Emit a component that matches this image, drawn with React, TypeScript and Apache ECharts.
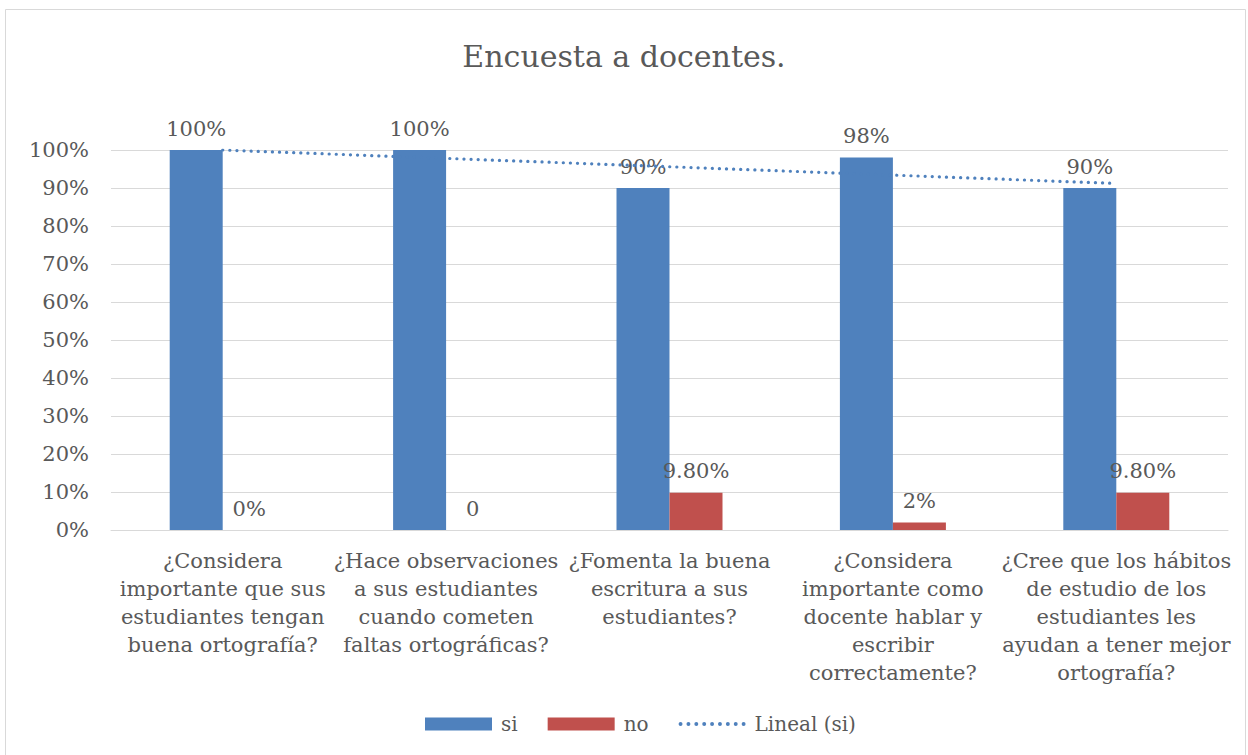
import React, { useEffect, useRef } from "react";
import * as echarts from "echarts";

const categories = [
  "¿Considera\nimportante que sus\nestudiantes tengan\nbuena ortografía?",
  "¿Hace observaciones\na sus estudiantes\ncuando cometen\nfaltas ortográficas?",
  "¿Fomenta la buena\nescritura a sus\nestudiantes?",
  "¿Considera\nimportante como\ndocente hablar y\nescribir\ncorrectamente?",
  "¿Cree que los hábitos\nde estudio de los\nestudiantes les\nayudan a tener mejor\nortografía?",
];
const siValues = [1.0, 1.0, 0.9, 0.98, 0.9];
const noValues = [0, 0, 0.098, 0.02, 0.098];
const siLabels = ["100%", "100%", "90%", "98%", "90%"];
const noLabels = ["0%", "0", "9.80%", "2%", "9.80%"];
const yTicks = [0, 0.1, 0.2, 0.3, 0.4, 0.5, 0.6, 0.7, 0.8, 0.9, 1.0];

// Linear trendline (least squares) of the "si" series, as in the source's "Lineal (si)"
function linearTrend(values: number[]): number[] {
  const n = values.length;
  const xs = values.map((_, i) => i + 1);
  const mx = xs.reduce((a, b) => a + b, 0) / n;
  const my = values.reduce((a, b) => a + b, 0) / n;
  let num = 0;
  let den = 0;
  for (let i = 0; i < n; i++) {
    num += (xs[i] - mx) * (values[i] - my);
    den += (xs[i] - mx) * (xs[i] - mx);
  }
  const slope = num / den;
  const icpt = my - slope * mx;
  return xs.map((x) => icpt + slope * x);
}

// dotted-line legend icon: 9 small round dots
function dottedIcon(): string {
  let d = "";
  for (let i = 0; i < 9; i++) {
    const x = i * 8;
    d += `M${x},2a2,2 0 1,0 4,0a2,2 0 1,0 -4,0Z`;
  }
  return "path://" + d;
}

const FONT = "DejaVu Serif";
const TEXT = "#595959";
const BLUE = "#4F81BD";
const RED = "#C0504D";
const FS = 21;

export default function App() {
  const ref = useRef<HTMLDivElement>(null);
  useEffect(() => {
    if (!ref.current) return;
    const chart = echarts.init(ref.current, null, { renderer: "svg" });
    const trend = linearTrend(siValues);
    chart.setOption({
      animation: false,
      backgroundColor: "#ffffff",
      textStyle: { fontFamily: FONT, color: TEXT },
      title: {
        text: "Encuesta a docentes.",
        left: "center",
        top: 36,
        textStyle: { fontFamily: FONT, fontSize: 30, fontWeight: "normal", color: TEXT },
      },
      graphic: [
        {
          type: "rect",
          shape: { x: 5.5, y: 9.5, width: 1240, height: 760 },
          style: { fill: "none", stroke: "#d9d9d9", lineWidth: 1 },
          silent: true,
        },
      ],
      legend: {
        bottom: 16,
        left: 420,
        itemWidth: 67,
        itemHeight: 13,
        itemGap: 30,
        textStyle: { fontFamily: FONT, fontSize: 20, color: TEXT, padding: [0, 0, 0, 4] },
        data: [
          { name: "si", icon: "rect" },
          { name: "no", icon: "rect" },
          { name: "Lineal (si)", icon: dottedIcon() },
        ],
      },
      grid: { left: 111, right: 20, top: 150, bottom: 225, containLabel: false },
      xAxis: {
        type: "category",
        data: categories,
        axisTick: { show: false },
        axisLine: { lineStyle: { color: "#d9d9d9", width: 1 } },
        axisLabel: {
          interval: 0,
          margin: 17,
          fontFamily: FONT,
          fontSize: FS,
          lineHeight: 28,
          color: TEXT,
          align: "center",
        },
      },
      yAxis: {
        type: "value",
        min: 0,
        max: 1,
        interval: 0.1,
        axisLine: { show: false },
        axisTick: { show: false },
        splitLine: { lineStyle: { color: "#d9d9d9", width: 1 } },
        axisLabel: {
          margin: 22,
          fontFamily: FONT,
          fontSize: FS,
          color: TEXT,
          formatter: (v: number) => {
            const t = yTicks.find((k) => Math.abs(k - v) < 1e-9);
            return Math.round((t ?? v) * 100) + "%";
          },
        },
      },
      series: [
        {
          name: "si",
          type: "bar",
          data: siValues,
          barWidth: 53,
          barGap: "0%",
          itemStyle: { color: BLUE },
          label: {
            show: true,
            position: "top",
            distance: 11,
            fontFamily: FONT,
            fontSize: FS,
            color: TEXT,
            formatter: (p: any) => siLabels[p.dataIndex],
          },
          z: 2,
        },
        {
          name: "no",
          type: "bar",
          data: noValues,
          barWidth: 53,
          itemStyle: { color: RED },
          label: {
            show: true,
            position: "top",
            distance: 11,
            fontFamily: FONT,
            fontSize: FS,
            color: TEXT,
            formatter: (p: any) => noLabels[p.dataIndex],
          },
          z: 2,
        },
        {
          name: "Lineal (si)",
          type: "line",
          data: trend,
          symbol: "none",
          showSymbol: false,
          lineStyle: { color: BLUE, width: 3.2, type: [0.1, 7], cap: "round" },
          itemStyle: { color: BLUE },
          z: 3,
        },
      ],
    });
    return () => chart.dispose();
  }, []);
  return (
    <div
      ref={ref}
      style={{ position: "fixed", left: 0, top: 0, width: 1248, height: 755 }}
    />
  );
}
